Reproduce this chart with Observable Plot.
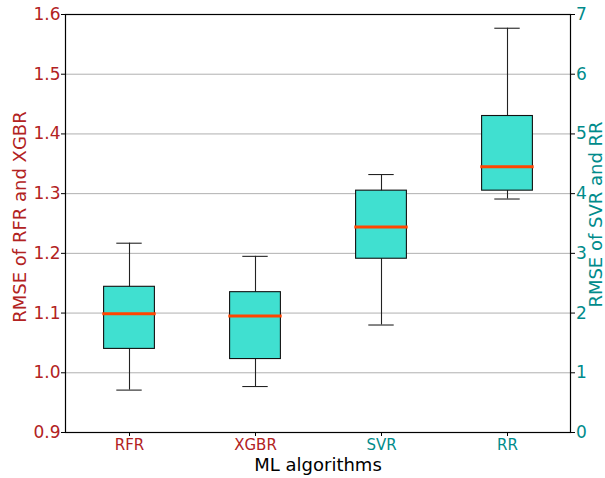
<!DOCTYPE html>
<html><head><meta charset="utf-8">
<script src="https://cdn.jsdelivr.net/npm/d3@7"></script>
<script src="https://cdn.jsdelivr.net/npm/@observablehq/plot@0.6"></script>
<style>body{margin:0;background:#fff}</style>
</head><body><div id="chart"></div>
<script>
// Categories and which y axis each is read against
const algorithms = ["RFR", "XGBR", "SVR", "RR"];
const axisSide = ["left", "left", "right", "right"];
// Box statistics (RFR, XGBR on left axis; SVR, RR on right axis units)
const whiskerLow  = [0.971, 0.977, 1.80, 3.91];
const q1          = [1.040, 1.023, 2.91, 4.05];
const median      = [1.099, 1.095, 3.44, 4.45];
const q3          = [1.144, 1.135, 4.05, 5.30];
const whiskerHigh = [1.217, 1.195, 4.32, 6.77];
// Tick labels
const leftTicks  = [0.9, 1.0, 1.1, 1.2, 1.3, 1.4, 1.5, 1.6];
const rightTicks = [0, 1, 2, 3, 4, 5, 6, 7];
const gridTicks  = [1.0, 1.1, 1.2, 1.3, 1.4, 1.5];

const leftColor = "#b22222";
const rightColor = "#008b8b";
// right axis (0..7) aligned with left axis (0.9..1.6)
const rightToLeft = v => 0.9 + v / 10;
const leftToRight = v => (v - 0.9) * 10;

const table = algorithms.map((name, i) => {
  const f = axisSide[i] === "right" ? rightToLeft : (v => v);
  return {
    name,
    lo: f(whiskerLow[i]), q1: f(q1[i]), med: f(median[i]),
    q3: f(q3[i]), hi: f(whiskerHigh[i]),
    color: axisSide[i] === "right" ? rightColor : leftColor
  };
});

const chart = Plot.plot({
  width: 605,
  height: 478,
  marginLeft: 65,
  marginRight: 35,
  marginTop: 14,
  marginBottom: 46,
  style: {fontFamily: "DejaVu Sans", fontSize: "15px", background: "white"},
  x: {domain: algorithms, padding: 0, axis: null},
  y: {domain: [0.9, 1.6], axis: null},
  marks: [
    Plot.ruleY(gridTicks, {stroke: "#b0b0b0", strokeWidth: 1}),
    Plot.ruleX(table, {x: "name", y1: "lo", y2: "hi", stroke: "#222", strokeWidth: 1.1}),
    Plot.tickY(table, {x: "name", y: "lo", stroke: "#222", strokeWidth: 1.1, insetLeft: 50.3, insetRight: 50.3}),
    Plot.tickY(table, {x: "name", y: "hi", stroke: "#222", strokeWidth: 1.1, insetLeft: 50.3, insetRight: 50.3}),
    Plot.barY(table, {x: "name", y1: "q1", y2: "q3", fill: "#40e0d0", stroke: "#111", strokeWidth: 1.1, insetLeft: 37.6, insetRight: 37.6}),
    Plot.tickY(table, {x: "name", y: "med", stroke: "#ff4500", strokeWidth: 3, insetLeft: 36.3, insetRight: 36.3}),
    Plot.frame({stroke: "#000", strokeWidth: 1.2}),
    Plot.axisY({anchor: "left", ticks: leftTicks, tickFormat: d => d.toFixed(1), tickSize: 4, tickPadding: 1, stroke: "#000", fill: leftColor, fontSize: 17, label: null}),
    Plot.axisY({anchor: "right", ticks: rightTicks.map(rightToLeft), tickFormat: d => String(Math.round(leftToRight(d))), tickSize: 4, tickPadding: 1.5, stroke: "#000", fill: rightColor, fontSize: 17, label: null}),
    Plot.axisX({anchor: "bottom", tickFormat: () => "", tickSize: 4, stroke: "#000", label: null}),
    Plot.text(table, {x: "name", text: "name", frameAnchor: "bottom", dy: 12.5, lineAnchor: "middle", fill: "color", fontSize: 15}),
    Plot.text(["ML algorithms"], {frameAnchor: "bottom", dy: 33, lineAnchor: "middle", fontSize: 18, fill: "black"}),
    Plot.text(["RMSE of RFR and XGBR"], {frameAnchor: "left", textAnchor: "middle", dx: -45.5, dy: -6.5, rotate: -90, lineAnchor: "middle", fontSize: 18, fill: leftColor}),
    Plot.text(["RMSE of SVR and RR"], {frameAnchor: "right", textAnchor: "middle", dx: 26, dy: -9, rotate: -90, lineAnchor: "middle", fontSize: 18, fill: rightColor})
  ]
});
document.getElementById("chart").appendChild(chart);
</script>
</body></html>
